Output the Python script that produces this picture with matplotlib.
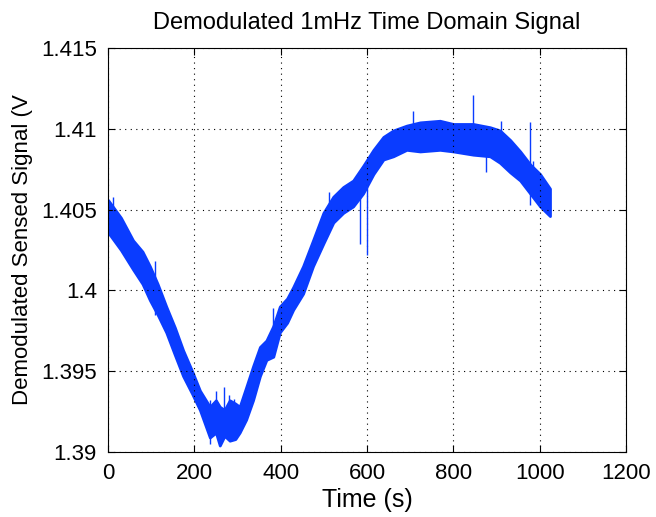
import matplotlib.pyplot as plt

# envelope of the noisy signal
time_s = [0, 30, 58, 80, 97, 115, 135, 155, 174, 195, 213, 236, 250, 259, 270, 282,
          295, 305, 320, 336, 352, 367, 383, 398, 415, 429, 452, 475, 499, 522,
          545, 568, 591, 615, 638, 661, 692, 723, 769, 800, 846, 885, 908, 932,
          955, 978, 1001, 1024]
upper = [1.4056, 1.4045, 1.4031, 1.4024, 1.4015, 1.4004, 1.3990, 1.3977, 1.3963,
         1.3950, 1.3938, 1.3928, 1.3932, 1.3928, 1.3926, 1.3932, 1.3930, 1.3928,
         1.3940, 1.3953, 1.3965, 1.3969, 1.3978, 1.3990, 1.3995, 1.4002, 1.4015,
         1.4031, 1.4048, 1.4058, 1.4064, 1.4068, 1.4077, 1.4087, 1.4095, 1.4099,
         1.4102, 1.4104, 1.4105, 1.4103, 1.4103, 1.4101, 1.4099, 1.4093, 1.4086,
         1.4078, 1.4072, 1.4063]
lower = [1.4036, 1.4025, 1.4013, 1.4004, 1.3994, 1.3985, 1.3974, 1.3960, 1.3947,
         1.3936, 1.3926, 1.3909, 1.3912, 1.3904, 1.3910, 1.3907, 1.3908, 1.3912,
         1.3920, 1.3932, 1.3947, 1.3957, 1.3959, 1.3974, 1.3980, 1.3988, 1.3998,
         1.4015, 1.4029, 1.4042, 1.4048, 1.4052, 1.4060, 1.4072, 1.4081, 1.4083,
         1.4087, 1.4086, 1.4087, 1.4086, 1.4084, 1.4083, 1.4079, 1.4073, 1.4068,
         1.4060, 1.4052, 1.4046]

# isolated spikes: time, low end, high end
spike_t = [12, 110, 236, 250, 268, 280, 292, 383, 512, 584, 601, 707, 846, 875,
           910, 978, 985]
spike_lo = [1.4040, 1.3985, 1.3905, 1.3915, 1.3910, 1.3912, 1.3915, 1.3960, 1.4040,
            1.4029, 1.4022, 1.4090, 1.4088, 1.4073, 1.4082, 1.4053, 1.4060]
spike_hi = [1.4058, 1.4018, 1.3932, 1.3938, 1.3940, 1.3935, 1.3933, 1.3989, 1.4061,
            1.4060, 1.4068, 1.4111, 1.4121, 1.4090, 1.4105, 1.4104, 1.4080]

xticks = [0, 200, 400, 600, 800, 1000, 1200]
yticks = [1.39, 1.395, 1.4, 1.405, 1.41, 1.415]
ytick_labels = ['1.39', '1.395', '1.4', '1.405', '1.41', '1.415']

blue = '#0a3cff'

plt.rcParams['font.family'] = ['Liberation Sans', 'DejaVu Sans']

fig = plt.figure(figsize=(6.56, 5.17), dpi=100)
ax = fig.add_axes([0.1646, 0.1257, 0.7896, 0.7814])

ax.fill_between(time_s, lower, upper, color=blue, linewidth=2.0, edgecolor=blue)
ax.vlines(spike_t, spike_lo, spike_hi, color=blue, linewidth=1.0)

ax.set_xlim(0, 1200)
ax.set_ylim(1.39, 1.415)
ax.set_xticks(xticks)
ax.set_xticklabels([str(x) for x in xticks])
ax.set_yticks(yticks)
ax.set_yticklabels(ytick_labels)
ax.tick_params(direction='in', top=True, right=True, labelsize=16, length=5)
ax.tick_params(axis='x', pad=8)
ax.tick_params(axis='y', pad=8)
ax.grid(True, color='black', linestyle=(0, (1, 4)), linewidth=0.8)
for s in ax.spines.values():
    s.set_linewidth(0.8)

ax.set_title('Demodulated 1mHz Time Domain Signal', fontsize=17, pad=14)
ax.set_xlabel('Time (s)', fontsize=18, labelpad=3)
ax.set_ylabel('Demodulated Sensed Signal (V', fontsize=16, labelpad=6)

fig.savefig('out.png', dpi=100)
